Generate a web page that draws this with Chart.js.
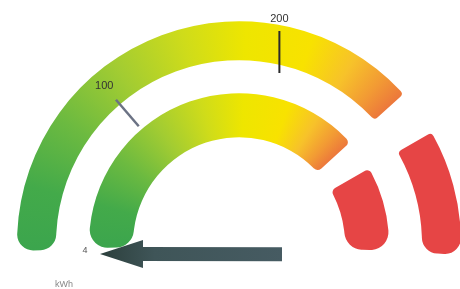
<!DOCTYPE html>
<html><head><meta charset="utf-8">
<style>html,body{margin:0;padding:0;background:#fff;}#wrap{width:460px;height:289px;position:relative;}</style>
<script src="https://cdn.jsdelivr.net/npm/chart.js@4"></script>
</head><body><div id="wrap"><canvas id="c"></canvas></div>
<script>
// ---- data ----
const unitLabel = 'kWh';
const gaugeMin = 0;
const gaugeMax = 360;
const zoneNames = ['normal', 'gap', 'high'];
const outerZones = [272, 24, 64];
const innerZones = [272, 24, 64];
const tickValues = [100, 200];
const tickLabels = ['100', '200'];
const needleValue = 4;
const needleLabel = '4';

// ---- styles ----
const RED = '#e64545';
const gradStops = [
  [0.000, '#3aa44e'], [0.058, '#43aa4a'], [0.113, '#6cba40'], [0.169, '#a2cc32'],
  [0.224, '#cfdc1a'], [0.271, '#eee600'], [0.321, '#f8e200'], [0.355, '#f7c22a'],
  [0.380, '#f29a34'], [0.405, '#ea6c3e'], [1.000, '#ea6c3e']
];

function zoneColor(ctx) {
  if (ctx.dataIndex === 1) return 'rgba(0,0,0,0)';
  if (ctx.dataIndex === 2) return RED;
  const chart = ctx.chart, a = chart.chartArea;
  if (!a) return '#cfdc1a';
  const ctrl = chart.getDatasetMeta(ctx.datasetIndex).controller;
  const cx = (a.left + a.right) / 2 + (ctrl.offsetX || 0);
  const cy = (a.top + a.bottom) / 2 + (ctrl.offsetY || 0);
  const c = chart.ctx;
  if (!c.createConicGradient) return '#cfdc1a';
  const g = c.createConicGradient(Math.PI - 0.1, cx, cy);
  gradStops.forEach(s => g.addColorStop(s[0], s[1]));
  return g;
}
function zoneRadius(big, small) {
  return ctx => {
    if (ctx.dataIndex === 0) return {outerStart: big, innerStart: big, outerEnd: small, innerEnd: small};
    if (ctx.dataIndex === 2) return {outerStart: small, innerStart: small, outerEnd: big, innerEnd: big};
    return 0;
  };
}

const decor = {
  id: 'decor',
  afterDatasetsDraw(chart) {
    const meta = chart.getDatasetMeta(0);
    const arc0 = meta.data[0];
    const cx = arc0.x, cy = arc0.y;
    const a0 = arc0.startAngle;
    const span = chart.options.circumference * Math.PI / 180;
    const ang = v => a0 + (v - gaugeMin) / (gaugeMax - gaugeMin) * span;
    const P = (a, r) => [cx + r * Math.cos(a), cy + r * Math.sin(a)];
    const c = chart.ctx;
    c.save();
    // tick 100 (radial marker in the gap)
    let a = ang(tickValues[0]);
    let p1 = P(a, 154), p2 = P(a, 189), pl = P(a, 207);
    c.strokeStyle = '#6b7284'; c.lineWidth = 2.5; c.lineCap = 'butt';
    c.beginPath(); c.moveTo(p1[0], p1[1]); c.lineTo(p2[0], p2[1]); c.stroke();
    c.fillStyle = '#333'; c.font = '11px "Liberation Sans", Arial, sans-serif';
    c.textAlign = 'center'; c.textBaseline = 'middle';
    c.fillText(tickLabels[0], pl[0], pl[1]);
    // tick 200 (vertical marker)
    a = ang(tickValues[1]);
    p1 = P(a, 216);
    c.strokeStyle = '#2a2a2a'; c.lineWidth = 2;
    c.beginPath(); c.moveTo(p1[0], p1[1]); c.lineTo(p1[0], p1[1] + 42); c.stroke();
    c.fillStyle = '#333';
    c.fillText(tickLabels[1], p1[0], p1[1] - 12);
    // needle arrow
    a = ang(needleValue);
    const tip = P(a, 139); tip[1] += 11;
    const dx = -Math.cos(a), dy = -Math.sin(a);
    const nx = -dy, ny = dx;
    const L = 182, H = 43, hw = 14, sw = 7;
    const pt = (t, s) => [tip[0] + dx * t + nx * s, tip[1] + dy * t + ny * s];
    const pts = [pt(0, 0), pt(H, hw), pt(H, sw), pt(L, sw), pt(L, -sw), pt(H, -sw), pt(H, -hw)];
    const lg = c.createLinearGradient(tip[0], tip[1], pt(L, 0)[0], pt(L, 0)[1]);
    lg.addColorStop(0, '#2c3f3c'); lg.addColorStop(0.3, '#3f5558'); lg.addColorStop(1, '#465b62');
    c.fillStyle = lg;
    c.beginPath(); c.moveTo(pts[0][0], pts[0][1]);
    for (let i = 1; i < pts.length; i++) c.lineTo(pts[i][0], pts[i][1]);
    c.closePath(); c.fill();
    // needle value label
    c.fillStyle = '#555'; c.font = '9px "Liberation Sans", Arial, sans-serif';
    c.fillText(needleLabel, tip[0] - 15, tip[1] - 4);
    // unit
    c.fillStyle = '#888'; c.font = '9px "Liberation Sans", Arial, sans-serif';
    c.textBaseline = 'top';
    c.fillText(unitLabel, 64, 280);
    c.restore();
  }
};

new Chart(document.getElementById('c'), {
  type: 'doughnut',
  data: {
    labels: zoneNames,
    datasets: [
      {data: outerZones, weight: 39, backgroundColor: zoneColor, borderWidth: 0, borderRadius: zoneRadius(16, 4), clip: false},
      {data: [gaugeMax - gaugeMin], weight: 33, backgroundColor: 'rgba(0,0,0,0)', borderWidth: 0, clip: false},
      {data: innerZones, weight: 44, backgroundColor: zoneColor, borderWidth: 0, borderRadius: zoneRadius(18, 5), clip: false}
    ]
  },
  options: {
    responsive: true,
    maintainAspectRatio: false,
    animation: false,
    rotation: -92,
    circumference: 185,
    radius: 222,
    cutout: '47.7%',
    layout: {padding: {left: 18, bottom: 13}},
    plugins: {legend: {display: false}, tooltip: {enabled: false}},
    events: []
  },
  plugins: [decor]
});
</script></body></html>
